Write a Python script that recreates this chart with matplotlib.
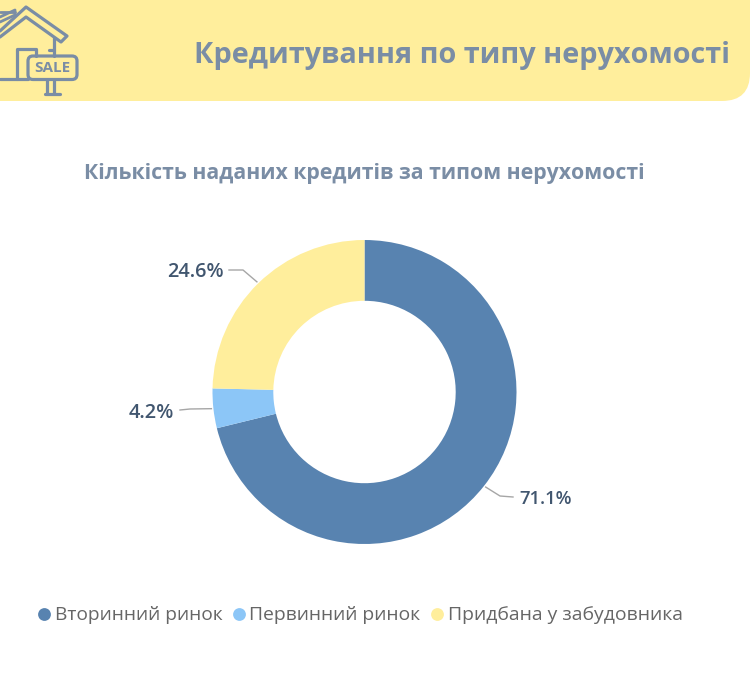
import numpy as np
import matplotlib
matplotlib.use('Agg')
import matplotlib.pyplot as plt
from matplotlib.patches import FancyBboxPatch

# data
categories = ['Вторинний ринок', 'Первинний ринок', 'Придбана у забудовника']
values = [71.1, 4.2, 24.6]
value_labels = ['71.1%', '4.2%', '24.6%']
colors = ['#5883B0', '#8CC6F7', '#FFEE9C']

header_title = 'Кредитування по типу нерухомості'
chart_title = 'Кількість наданих кредитів за типом нерухомості'

W, H = 750, 683
CX, CY, R = 364.5, 392, 152
ICON = '#7A8DA5'

plt.rcParams['font.family'] = ['Open Sans', 'DejaVu Sans']

fig = plt.figure(figsize=(W / 100, H / 100), dpi=100, facecolor='white')

# overlay in pixel coords for header, labels, legend
bg = fig.add_axes([0, 0, 1, 1])
bg.set_xlim(0, W)
bg.set_ylim(H, 0)
bg.axis('off')

bg.add_patch(FancyBboxPatch((-60, -60), 810, 161, boxstyle='round,pad=0,rounding_size=28',
                            fc='#FFEE9C', ec='none', mutation_aspect=1))
bg.text(730, 55, header_title, ha='right', va='center', fontsize=20.78,
        fontweight='bold', color=ICON)
bg.text(364.5, 174, chart_title, ha='center', va='center', fontsize=15.3,
        fontweight='bold', color=ICON)

# house icon
def icon_line(xs, ys, lw=2.3):
    bg.plot(xs, ys, color=ICON, lw=lw, solid_capstyle='round', solid_joinstyle='round')

icon_line([0, 26, 67, 61, 26, 0], [31, 7, 36, 42, 17, 37])
icon_line([0, 15, 15, 0], [17, 10, 15, 22], lw=2)
icon_line([0, 15], [12, 12], lw=2)
icon_line([54, 54], [38, 56])
icon_line([0, 28], [79, 79])
icon_line([17, 17, 36, 36], [79, 49, 49, 56])
icon_line([49, 54], [50, 50])
bg.add_patch(FancyBboxPatch((28, 56), 49, 23.5, boxstyle='round,pad=0,rounding_size=5',
                            fc='none', ec=ICON, lw=2.3))
bg.text(52.5, 68.5, 'SALE', ha='center', va='center', fontsize=11, fontweight='bold',
        color=ICON)
icon_line([47, 47], [80, 93])
icon_line([54, 54], [80, 93])
icon_line([45, 60], [93.5, 93.5])

# donut
ax = fig.add_axes([(CX - R) / W, 1 - (CY + R) / H, 2 * R / W, 2 * R / H])
wedges, _ = ax.pie(values, colors=colors, startangle=90, counterclock=False,
                   radius=1, wedgeprops={'width': 0.4, 'linewidth': 0})
ax.set_xlim(-1, 1)
ax.set_ylim(-1, 1)
ax.set_aspect('equal')

# leaders: start on the wedge mid angle, then elbow to the label
elbows = [(500, 496), (190, 409), (243, 270)]
ends = [(513, 497), (180, 410), (229, 270)]
text_x = [519, 174, 224]
text_y = [499, 413, 272]
aligns = ['left', 'right', 'right']
font_sizes = [13.2, 14.3, 14.3]
for w, lab, elbow, end, tx, ty, al, fs in zip(wedges, value_labels, elbows, ends, text_x, text_y, aligns, font_sizes):
    ang = np.deg2rad((w.theta1 + w.theta2) / 2)
    sx = CX + (R + 2) * np.cos(ang)
    sy = CY - (R + 2) * np.sin(ang)
    bg.plot([sx, elbow[0], end[0]], [sy, elbow[1], end[1]], color='#A6A6A6', lw=1)
    bg.text(tx, ty, lab, ha=al, va='center', fontsize=fs,
            fontweight='semibold', color='#41566F')

# legend
leg_dots = [44, 239, 437]
leg_text = [55, 249, 448]
leg_sizes = [13.75, 13.85, 13.95]
for c, name, dx, tx, fs in zip(colors, categories, leg_dots, leg_text, leg_sizes):
    bg.scatter([dx], [613.5], s=85, color=c, linewidths=0)
    bg.text(tx, 615, name, ha='left', va='center', fontsize=fs, color='#666666')

fig.savefig('out.png', dpi=100, facecolor='white')
